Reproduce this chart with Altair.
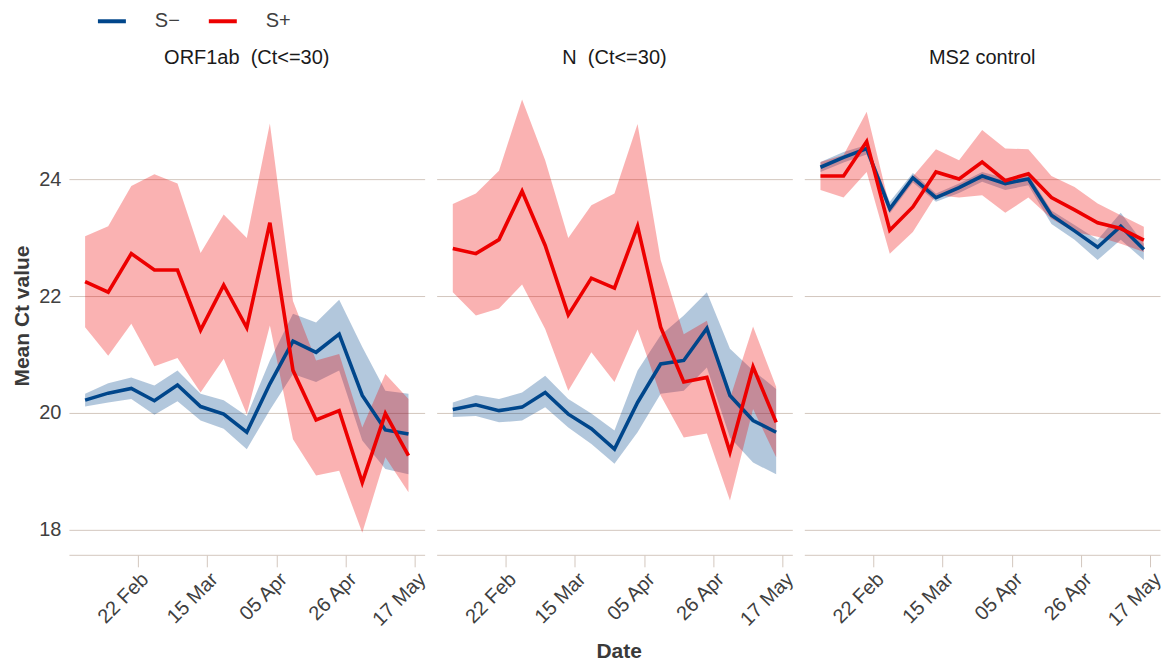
import altair as alt
import pandas as pd

# Weekly sample dates (15 weeks)
dates = pd.date_range("2021-02-06", periods=15, freq="7D").strftime("%Y-%m-%d").tolist()

panels = ["ORF1ab\u00a0 (Ct<=30)", "N\u00a0 (Ct<=30)", "MS2 control"]
groups = ["S\u2212", "S+"]

# ORF1ab (Ct<=30)
orf_neg_mean = [20.22, 20.34, 20.42, 20.21, 20.48, 20.11, 19.98, 19.67, 20.50, 21.23, 21.04, 21.35, 20.30, 19.71, 19.64]
orf_neg_hi = [20.33, 20.51, 20.61, 20.47, 20.73, 20.33, 20.22, 19.95, 20.90, 21.70, 21.55, 21.94, 21.13, 20.38, 20.33]
orf_neg_lo = [20.11, 20.18, 20.24, 19.97, 20.20, 19.87, 19.73, 19.38, 20.05, 20.67, 20.53, 20.73, 19.53, 19.04, 18.95]
orf_pos_mean = [22.25, 22.07, 22.73, 22.45, 22.45, 21.42, 22.19, 21.46, 23.26, 20.73, 19.88, 20.04, 18.81, 19.99, 19.27]
orf_pos_hi = [23.03, 23.20, 23.89, 24.09, 23.93, 22.74, 23.40, 23.00, 24.96, 21.92, 20.90, 21.01, 19.75, 20.67, 20.24]
orf_pos_lo = [21.47, 20.98, 21.53, 20.80, 20.94, 20.35, 20.93, 19.98, 21.50, 19.55, 18.93, 19.01, 17.95, 19.24, 18.64]

# N (Ct<=30)
n_neg_mean = [20.06, 20.14, 20.04, 20.10, 20.35, 19.98, 19.73, 19.38, 20.18, 20.84, 20.90, 21.45, 20.30, 19.87, 19.67]
n_neg_hi = [20.18, 20.31, 20.24, 20.35, 20.64, 20.24, 19.99, 19.70, 20.73, 21.33, 21.67, 22.07, 21.10, 20.73, 20.41]
n_neg_lo = [19.93, 19.95, 19.84, 19.87, 20.10, 19.75, 19.47, 19.13, 19.67, 20.33, 20.38, 20.78, 19.58, 19.15, 18.95]
n_pos_mean = [22.82, 22.73, 22.97, 23.80, 22.87, 21.68, 22.31, 22.14, 23.20, 21.47, 20.53, 20.61, 19.33, 20.79, 19.84]
n_pos_hi = [23.58, 23.76, 24.15, 25.37, 24.33, 23.00, 23.56, 23.76, 24.95, 22.62, 21.35, 21.58, 20.25, 21.48, 20.45]
n_pos_lo = [22.07, 21.67, 21.79, 22.20, 21.44, 20.38, 21.04, 20.53, 21.43, 20.30, 19.58, 19.65, 18.50, 20.07, 19.24]

# MS2 control
ms2_neg_mean = [24.21, 24.38, 24.53, 23.50, 24.03, 23.69, 23.86, 24.06, 23.93, 24.01, 23.39, 23.12, 22.84, 23.20, 22.80]
ms2_neg_hi = [24.30, 24.47, 24.59, 23.62, 24.11, 23.76, 23.93, 24.13, 24.02, 24.09, 23.47, 23.22, 22.97, 23.43, 22.90]
ms2_neg_lo = [24.13, 24.29, 24.43, 23.42, 23.95, 23.62, 23.77, 23.96, 23.82, 23.90, 23.24, 22.97, 22.62, 22.97, 22.62]
ms2_pos_mean = [24.06, 24.06, 24.65, 23.13, 23.53, 24.13, 24.01, 24.30, 23.98, 24.10, 23.69, 23.48, 23.26, 23.16, 22.96]
ms2_pos_hi = [24.30, 24.42, 25.16, 23.53, 24.05, 24.52, 24.33, 24.85, 24.53, 24.52, 24.06, 23.87, 23.59, 23.39, 23.19]
ms2_pos_lo = [23.82, 23.69, 24.13, 22.73, 23.10, 23.73, 23.69, 23.73, 23.43, 23.69, 23.33, 23.10, 23.02, 22.90, 22.76]

series = {
    panels[0]: {groups[0]: (orf_neg_mean, orf_neg_lo, orf_neg_hi), groups[1]: (orf_pos_mean, orf_pos_lo, orf_pos_hi)},
    panels[1]: {groups[0]: (n_neg_mean, n_neg_lo, n_neg_hi), groups[1]: (n_pos_mean, n_pos_lo, n_pos_hi)},
    panels[2]: {groups[0]: (ms2_neg_mean, ms2_neg_lo, ms2_neg_hi), groups[1]: (ms2_pos_mean, ms2_pos_lo, ms2_pos_hi)},
}

rows = []
for panel, by_group in series.items():
    for grp, (mean, lo, hi) in by_group.items():
        for d, m, l, h in zip(dates, mean, lo, hi):
            rows.append({"panel": panel, "group": grp, "date": d, "mean": m, "lo": l, "hi": h})
df = pd.DataFrame(rows)

TEXT = "#404040"
RULE = "#d3c7be"
FONT = "Liberation Sans"
palette = ["#00468B", "#ED0000"]

y_scale = alt.Scale(domain=[17.57, 25.77], nice=False, zero=False)
x_scale = alt.Scale(
    type="utc",
    domain=[
        alt.DateTime(year=2021, month=2, date=1, hours=2, minutes=24, utc=True),
        alt.DateTime(year=2021, month=5, date=19, hours=21, minutes=36, utc=True),
    ],
)
tick_dates = [
    alt.DateTime(year=2021, month=m, date=d, utc=True)
    for m, d in [(2, 22), (3, 15), (4, 5), (4, 26), (5, 17)]
]

x_enc = alt.X(
    "date:T",
    scale=x_scale,
    title=None,
    axis=alt.Axis(
        values=tick_dates,
        format="%d %b",
        labelAngle=-45,
        labelAlign="right",
        labelBaseline="top",
        grid=False,
        tickSize=12,
        labelPadding=2,
    ),
)
y_axis = alt.Axis(
    values=[18, 20, 22, 24], ticks=False, tickSize=0, domain=False, labelPadding=8, titlePadding=6
)


def band(group, colour):
    # shaded interval for one group
    return (
        alt.Chart()
        .transform_filter(alt.datum.group == group)
        .mark_area(opacity=0.3, color=colour)
        .encode(
            x=x_enc,
            y=alt.Y("lo:Q", scale=y_scale, axis=y_axis, title="Mean Ct value"),
            y2="hi:Q",
        )
    )


# group means
line = alt.Chart().mark_line(strokeWidth=3.6).encode(
    x=x_enc,
    y=alt.Y("mean:Q", scale=y_scale, axis=y_axis, title="Mean Ct value"),
    color=alt.Color(
        "group:N",
        scale=alt.Scale(domain=groups, range=palette),
        legend=alt.Legend(
            title=None,
            orient="none",
            legendX=27,
            legendY=-71,
            direction="horizontal",
            symbolType="stroke",
            symbolSize=784,
            symbolStrokeWidth=4,
            labelOffset=27,
            columnPadding=20,
            labelFontSize=20,
            labelColor=TEXT,
            labelFont=FONT,
        ),
    ),
)

chart = (
    alt.layer(band(groups[0], palette[0]), band(groups[1], palette[1]), line, data=df)
    .properties(width=356, height=479)
    .facet(
        column=alt.Column(
            "panel:N",
            sort=panels,
            title=None,
            header=alt.Header(labelFontSize=20, labelColor="#1a1a1a", labelFont=FONT, labelPadding=8),
        ),
        spacing=12,
    )
    .properties(
        title=alt.TitleParams(
            "Date", orient="bottom", anchor="middle", fontSize=21, fontWeight="bold",
            font=FONT, color="#3a3a3a", offset=12, dx=31,
        ),
        padding={"left": 11, "top": 5, "right": 5, "bottom": 5},
        background="white",
    )
    .configure_view(stroke=None)
    .configure_axis(
        labelFont=FONT,
        titleFont=FONT,
        labelFontSize=20,
        titleFontSize=21,
        labelColor=TEXT,
        titleColor="#3a3a3a",
        gridColor=RULE,
        gridWidth=1,
        domainColor=RULE,
        tickColor=RULE,
    )
)

chart.save("out.html", embed_options={"renderer": "svg", "actions": False})
